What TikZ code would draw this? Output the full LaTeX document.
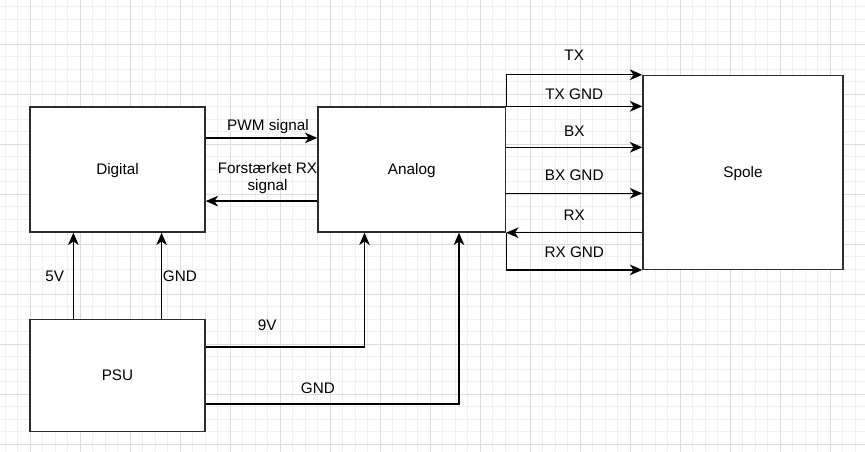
\documentclass[tikz,border=0pt]{standalone}
\usepackage{fontspec}
\setmainfont{Liberation Sans}
\usetikzlibrary{arrows.meta, positioning, calc}
\definecolor{gridminor}{RGB}{240,240,240}
\definecolor{gridmajor}{RGB}{220,220,220}
\definecolor{boxline}{RGB}{45,45,45}

\begin{document}
\begin{tikzpicture}[
    block/.style={rectangle, draw=boxline, line width=0.8pt, fill=white,
                  text height=6.2pt, text depth=0pt},
    arrow/.style={-{Stealth[length=7pt, width=6pt, inset=2pt]}, line width=0.75pt},
    lbl/.style={inner sep=0pt, text height=6.2pt, text depth=0pt},
    every node/.style={font=\fontsize{8.7}{9.8}\selectfont}
]
%% Canvas and grid
\useasboundingbox (0,0) rectangle (17.3,-9.04);
\begin{scope}
    \clip (0,0) rectangle (17.3,-9.04);
    \fill[white] (0,0) rectangle (17.3,-9.04);
    \draw[gridminor, line width=0.5pt, shift={(0.1,0.12)}, step=0.25] (-0.5,-9.5) grid (17.5,0.5);
    \draw[gridmajor, line width=0.5pt, shift={(0.6,0.12)}, step=1] (-1,-10) grid (17,1);
\end{scope}
%% Blocks
\node[block, minimum width=3.5cm, minimum height=2.5cm]    (digital) at (2.35,-3.39)  {Digital};
\node[block, minimum width=3.75cm, minimum height=2.5cm]   (analog)  at (8.235,-3.39) {Analog};
\node[block, minimum width=3.5cm, minimum height=2.25cm]   (psu)     at (2.35,-7.51)  {PSU};
\node[block, minimum width=4cm, minimum height=3.875cm]    (spole)   at (14.86,-3.447) {Spole};
%% Digital <-> Analog
\draw[arrow] ($(digital.north east)!0.25!(digital.south east)$)
    -- ($(analog.north west)!0.25!(analog.south west)$)
    node[lbl, midway, xshift=0.13cm, yshift=0.265cm] (pwm) {PWM signal};
\draw[arrow] ($(analog.north west)!0.75!(analog.south west)$)
    -- ($(digital.north east)!0.75!(digital.south east)$)
    node[midway, anchor=south, align=center, inner sep=0pt, xshift=0.12cm, yshift=0.137cm] (rxsig)
    {Forstærket RX\\signal};
%% PSU -> Digital
\draw[arrow] ($(psu.north west)!0.25!(psu.north east)$)
    -- ($(digital.south west)!0.25!(digital.south east)$)
    node[lbl, midway, xshift=-0.375cm] (fivev) {5V};
\draw[arrow] ($(psu.north west)!0.75!(psu.north east)$)
    -- ($(digital.south west)!0.75!(digital.south east)$)
    node[lbl, midway, xshift=0.365cm] (gnddig) {GND};
%% PSU -> Analog
\draw[arrow] ($(psu.north east)!0.25!(psu.south east)$)
    -| ($(analog.south west)!0.25!(analog.south east)$)
    node[lbl, pos=0.25, xshift=-0.36cm, yshift=0.435cm] (ninev) {9V};
\draw[arrow] ($(psu.north east)!0.75!(psu.south east)$)
    -| ($(analog.south west)!0.75!(analog.south east)$)
    node[lbl, pos=0.25, xshift=-0.29cm, yshift=0.31cm] (gndana) {GND};
%% Analog <-> Spole
\draw[arrow] (analog.north east) |- (spole.north west)
    node[lbl, pos=0.75, yshift=0.39cm] (tx) {TX};
\draw[arrow] (analog.north east) -- (analog.north east -| spole.west)
    node[lbl, midway, yshift=0.25cm] (txgnd) {TX GND};
\coordinate (bxa) at ($(analog.north east)+(0,-0.82)$);
\draw[arrow] (bxa) -- (bxa -| spole.west)
    node[lbl, midway, yshift=0.32cm] (bx) {BX};
\coordinate (bxgnda) at ($(analog.north east)+(0,-1.74)$);
\draw[arrow] (bxgnda) -- (bxgnda -| spole.west)
    node[lbl, midway, yshift=0.355cm] (bxgnd) {BX GND};
\draw[arrow] (analog.south east -| spole.west) -- (analog.south east)
    node[lbl, midway, yshift=0.345cm] (rx) {RX};
\draw[arrow] (analog.south east) |- (spole.south west)
    node[lbl, pos=0.75, yshift=0.365cm] (rxgnd) {RX GND};
\end{tikzpicture}
\end{document}
